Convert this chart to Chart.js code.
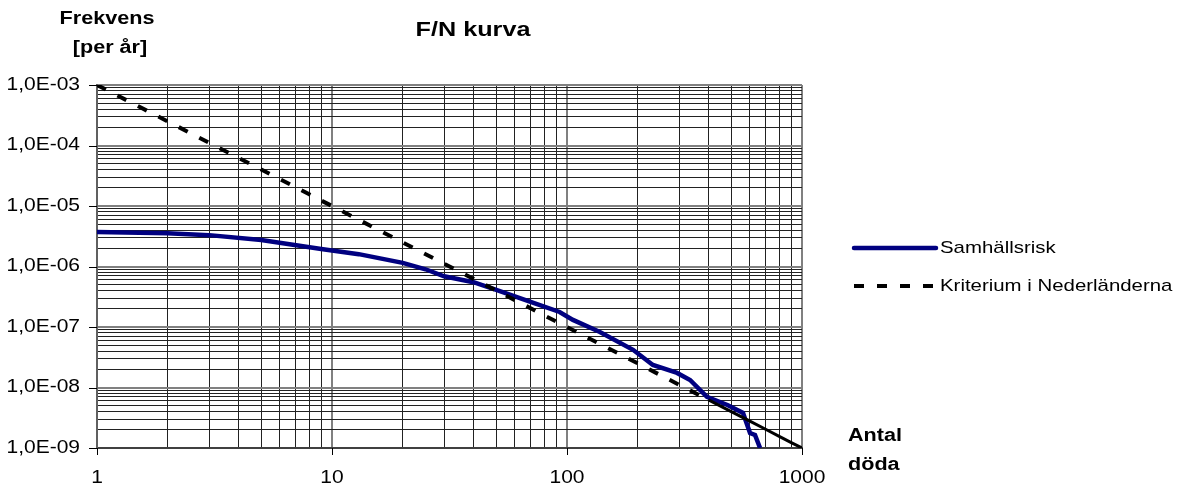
<!DOCTYPE html>
<html>
<head>
<meta charset="utf-8">
<title>F/N kurva</title>
<script src="https://cdn.jsdelivr.net/npm/chart.js@4/dist/chart.umd.min.js"></script>
<style>
  html, body { margin: 0; padding: 0; background: #fff; }
  #wrap { width: 1179px; height: 490px; position: relative; }
</style>
</head>
<body>
<div id="wrap"><canvas id="fnChart"></canvas></div>
<script>
// Samhällsrisk: antal döda (N) och frekvens per år (F)
var riskN = [1, 2, 3, 5, 9, 13, 20, 25, 30, 40, 50, 70, 93, 106, 138, 191, 232, 294, 334, 394, 484, 561, 601, 631, 663];
var riskF = [3.7e-6, 3.55e-6, 3.3e-6, 2.75e-6, 1.95e-6, 1.6e-6, 1.15e-6, 9.0e-7, 6.9e-7, 5.5e-7, 4.1e-7, 2.6e-7, 1.77e-7, 1.31e-7,
             8.3e-8, 4.2e-8, 2.36e-8, 1.74e-8, 1.33e-8, 7.0e-9, 5.1e-9, 3.8e-9, 1.77e-9, 1.64e-9, 1.0e-9];

// Kriterium i Nederländerna
var kritN = [1, 2, 3, 4, 5, 6, 7, 8, 9, 10, 20, 30, 40, 50, 60, 70, 80, 90, 100, 200, 300, 400, 500, 600, 700, 800, 900, 1000];
var kritF = [1e-3, 2.5e-4, 1.11e-4, 6.25e-5, 4e-5, 2.78e-5, 2.04e-5, 1.56e-5, 1.23e-5, 1e-5, 2.5e-6, 1.11e-6, 6.25e-7, 4e-7,
             2.78e-7, 2.04e-7, 1.56e-7, 1.23e-7, 1e-7, 2.5e-8, 1.11e-8, 6.25e-9, 4e-9, 2.78e-9, 2.04e-9, 1.56e-9, 1.23e-9, 1e-9];

// axis ticks (decades) and their labels
var xTickValues = [1, 10, 100, 1000];
var xTickLabels = ['1', '10', '100', '1000'];
var yTickValues = [1e-9, 1e-8, 1e-7, 1e-6, 1e-5, 1e-4, 1e-3];
var yTickLabels = ['1,0E-09', '1,0E-08', '1,0E-07', '1,0E-06', '1,0E-05', '1,0E-04', '1,0E-03'];

var riskColor = '#000080';
var kritColor = '#000000';
var kritDash = [10, 13];
var FONT = '"Liberation Sans", Arial, sans-serif';
var SX = 1.2; // wide letters

function toPoints(xs, ys) {
    return xs.map(function (x, i) { return { x: x, y: ys[i] }; });
}

// minor ticks 1..9 inside every decade
function decadeTicks(decades) {
    var out = [];
    for (var i = 0; i < decades.length - 1; i++) {
        for (var k = 1; k <= 9; k++) {
            out.push({ value: k * decades[i], major: k === 1 });
        }
    }
    out.push({ value: decades[decades.length - 1], major: true });
    return out;
}

function gridColor(c) {
    return c.tick && c.tick.major ? '#808080' : '#222222';
}
function gridWidth(c) {
    return c.tick && c.tick.major ? 2 : 1;
}

function wideText(ctx, txt, x, y, align) {
    ctx.save();
    ctx.textAlign = align;
    ctx.textBaseline = 'middle';
    ctx.scale(SX, 1);
    ctx.fillText(txt, x / SX, y);
    ctx.restore();
}

var decor = {
    id: 'fnDecor',
    afterDraw: function (chart) {
        var ctx = chart.ctx;
        var xs = chart.scales.x, ys = chart.scales.y;
        var area = chart.chartArea;

        ctx.save();
        // tick marks at the decades
        ctx.strokeStyle = '#000';
        ctx.lineWidth = 1;
        ctx.beginPath();
        yTickValues.forEach(function (v) {
            var py = Math.round(ys.getPixelForValue(v)) + 0.5;
            ctx.moveTo(area.left - 8, py);
            ctx.lineTo(area.left, py);
        });
        xTickValues.forEach(function (v) {
            var px = Math.round(xs.getPixelForValue(v)) + 0.5;
            ctx.moveTo(px, area.bottom);
            ctx.lineTo(px, area.bottom + 7);
        });
        ctx.stroke();

        // tick labels
        ctx.fillStyle = '#000';
        ctx.font = '17.5px ' + FONT;
        yTickValues.forEach(function (v, i) {
            wideText(ctx, yTickLabels[i], area.left - 17, ys.getPixelForValue(v), 'right');
        });
        xTickValues.forEach(function (v, i) {
            wideText(ctx, xTickLabels[i], xs.getPixelForValue(v), area.bottom + 30, 'center');
        });

        // titles
        ctx.font = 'bold 21px ' + FONT;
        wideText(ctx, 'F/N kurva', 473, 30, 'center');
        ctx.font = 'bold 18px ' + FONT;
        wideText(ctx, 'Frekvens', 107, 19, 'center');
        wideText(ctx, '[per år]', 110, 48, 'center');
        wideText(ctx, 'Antal', 848, 436, 'left');
        wideText(ctx, 'döda', 848, 465, 'left');

        // legend
        var lx0 = 854, lx1 = 936;
        ctx.lineCap = 'round';
        ctx.strokeStyle = riskColor;
        ctx.lineWidth = 4.5;
        ctx.beginPath();
        ctx.moveTo(lx0, 248);
        ctx.lineTo(lx1, 248);
        ctx.stroke();
        ctx.lineCap = 'butt';
        ctx.strokeStyle = kritColor;
        ctx.lineWidth = 4;
        ctx.setLineDash(kritDash);
        ctx.beginPath();
        ctx.moveTo(lx0, 286);
        ctx.lineTo(lx1 - 3, 286);
        ctx.stroke();
        ctx.setLineDash([]);
        ctx.font = '17px ' + FONT;
        ctx.fillStyle = '#000';
        wideText(ctx, 'Samhällsrisk', 940, 248, 'left');
        wideText(ctx, 'Kriterium i Nederländerna', 940, 286, 'left');
        ctx.restore();
    }
};

var ctx = document.getElementById('fnChart').getContext('2d');
var fnChart = new Chart(ctx, {
    type: 'line',
    data: {
        datasets: [
            {
                label: 'Samhällsrisk',
                data: toPoints(riskN, riskF),
                borderColor: riskColor,
                borderWidth: 4.5,
                pointRadius: 0,
                tension: 0,
                fill: false,
                order: 1
            },
            {
                label: 'Kriterium i Nederländerna',
                data: toPoints(kritN, kritF),
                borderColor: kritColor,
                borderWidth: 4,
                borderDash: kritDash,
                // the tail of the criterion line runs solid
                segment: {
                    borderDash: function (s) { return s.p0.parsed.x >= 400 ? [] : kritDash; },
                    borderWidth: function (s) { return s.p0.parsed.x >= 400 ? 3 : 4; }
                },
                pointRadius: 0,
                tension: 0,
                fill: false,
                order: 0
            }
        ]
    },
    options: {
        responsive: true,
        maintainAspectRatio: false,
        animation: false,
        devicePixelRatio: 1,
        layout: { padding: { top: 85, right: 377, left: 0, bottom: 0 } },
        plugins: {
            legend: { display: false },
            tooltip: { enabled: false },
            title: { display: false }
        },
        scales: {
            x: {
                type: 'logarithmic',
                min: 1,
                max: 1000,
                afterBuildTicks: function (scale) { scale.ticks = decadeTicks(xTickValues); },
                afterFit: function (scale) { scale.height = 42; },
                ticks: { display: false },
                grid: { color: gridColor, lineWidth: gridWidth, drawTicks: false },
                border: { display: true, color: '#404040', width: 2 }
            },
            y: {
                type: 'logarithmic',
                min: 1e-9,
                max: 1e-3,
                afterBuildTicks: function (scale) { scale.ticks = decadeTicks(yTickValues); },
                afterFit: function (scale) { scale.width = 97; },
                ticks: { display: false },
                grid: { color: gridColor, lineWidth: gridWidth, drawTicks: false },
                border: { display: true, color: '#606060', width: 2 }
            }
        }
    },
    plugins: [decor]
});
</script>
</body>
</html>
